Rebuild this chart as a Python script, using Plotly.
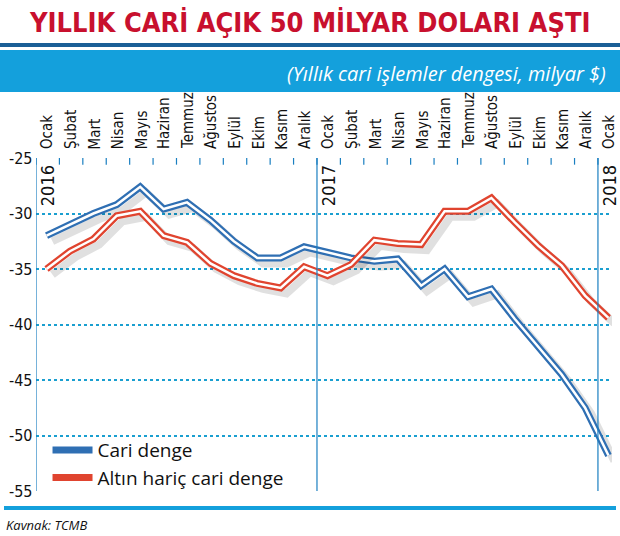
import plotly.graph_objects as go

months = ["Ocak","Şubat","Mart","Nisan","Mayıs","Haziran","Temmuz","Ağustos","Eylül","Ekim","Kasım","Aralık",
          "Ocak","Şubat","Mart","Nisan","Mayıs","Haziran","Temmuz","Ağustos","Eylül","Ekim","Kasım","Aralık","Ocak"]
cari = [-32.0,-31.0,-30.0,-29.2,-27.6,-29.6,-29.0,-30.6,-32.5,-34.0,-34.0,-33.0,
        -33.5,-34.0,-34.3,-34.1,-36.5,-35.0,-37.5,-36.8,-39.5,-42.0,-44.5,-47.5,-51.8]
altin = [-35.0,-33.4,-32.3,-30.2,-29.8,-32.0,-32.6,-34.5,-35.6,-36.3,-36.7,-34.8,
         -35.6,-34.6,-32.4,-32.7,-32.8,-29.8,-29.8,-28.6,-30.8,-32.9,-34.7,-37.4,-39.4]
years = ["2016","2017","2018"]
yticks = [-25,-30,-35,-40,-45,-50,-55]

FN = "DejaVu Sans Condensed, sans-serif"
xs = [i + 0.45 for i in range(len(months))]
fig = go.Figure()
for name, vals, col in [("Cari denge", cari, "#2f6fb3"), ("Altın hariç cari denge", altin, "#e0442f")]:
    fig.add_trace(go.Scatter(x=[v + 0.25 for v in xs], y=[v - 0.5 for v in vals], mode="lines",
                             line=dict(color="rgba(0,0,0,0.12)", width=8), showlegend=False, hoverinfo="skip"))
    fig.add_trace(go.Scatter(x=xs, y=vals, mode="lines", name=name,
                             line=dict(color=col, width=7), legendgroup=name))
    fig.add_trace(go.Scatter(x=xs, y=vals, mode="lines", line=dict(color="white", width=2.5),
                             showlegend=False, legendgroup=name, hoverinfo="skip"))

def py(p):
    return (491 - p) / 333
def px(p):
    return (p - 36) / 576

for k in range(3):
    fig.add_shape(type="line", xref="x", yref="paper", x0=12*k, x1=12*k, y0=0, y1=1,
                  line=dict(color="#1a7fc1", width=1.2))
for i in range(25):
    fig.add_shape(type="line", xref="x", yref="y", x0=i, x1=i, y0=-25, y1=-25.6,
                  line=dict(color="#1a7fc1", width=1.2))
fig.add_shape(type="rect", xref="paper", yref="paper", x0=px(0), x1=px(620), y0=py(47), y1=py(43),
              line=dict(width=0), fillcolor="#1a5f96")
fig.add_shape(type="rect", xref="paper", yref="paper", x0=px(0), x1=px(620), y0=py(92), y1=py(50),
              line=dict(width=0), fillcolor="#14a0dc")
fig.add_shape(type="rect", xref="paper", yref="paper", x0=px(4), x1=px(616), y0=py(510), y1=py(506),
              line=dict(width=0), fillcolor="#14a0dc")

for i, m in enumerate(months):
    fig.add_annotation(x=i + 0.5, y=1.02, xref="x", yref="paper", text=m, showarrow=False, textangle=-90,
                       xanchor="center", yanchor="bottom", font=dict(family=FN, size=15, color="#111"))
for k, yr in enumerate(years):
    fig.add_annotation(x=12*k + 0.5, y=0.985, xref="x", yref="paper", text=yr, showarrow=False, textangle=-90,
                       xanchor="center", yanchor="top", font=dict(family=FN, size=18, color="#111"))
for t in yticks:
    fig.add_annotation(x=0, y=t, xref="paper", yref="y", text=str(t), showarrow=False, xanchor="right",
                       xshift=-1, font=dict(family=FN, size=16, color="#111"))
fig.add_annotation(x=px(310), y=py(22), xref="paper", yref="paper", text="<b>YILLIK CARİ AÇIK 50 MİLYAR DOLARI AŞTI</b>",
                   showarrow=False, yanchor="middle", font=dict(family=FN, size=27, color="#c8102e"))
fig.add_annotation(x=px(608), y=py(73), xref="paper", yref="paper", text="<i>(Yıllık cari işlemler dengesi, milyar $)</i>",
                   showarrow=False, xanchor="right", yanchor="middle", font=dict(family="Open Sans, sans-serif", size=20, color="white"))
fig.add_annotation(x=px(4), y=py(525), xref="paper", yref="paper", text="<i>Kavnak: TCMB</i>",
                   showarrow=False, xanchor="left", yanchor="middle", font=dict(family="Open Sans, sans-serif", size=13, color="#111"))

fig.update_layout(
    width=620, height=536, margin=dict(l=36, r=8, t=158, b=45),
    paper_bgcolor="white", plot_bgcolor="white",
    xaxis=dict(range=[0, 24.6], showticklabels=False, showgrid=False, zeroline=False),
    yaxis=dict(range=[-55, -25], tickvals=yticks, showticklabels=False, showgrid=True,
               gridcolor="#1a9fd0", griddash="dot", gridwidth=1.5, zeroline=False),
    legend=dict(x=0.02, y=0.18, xanchor="left", yanchor="top", bgcolor="rgba(0,0,0,0)",
                font=dict(family="Open Sans, sans-serif", size=19, color="#111"), tracegroupgap=0,
                itemwidth=40),
    showlegend=True,
)
fig.write_html("out.html", config={"displayModeBar": False},
               post_script="document.body.style.margin='0';document.body.style.overflow='hidden';")
